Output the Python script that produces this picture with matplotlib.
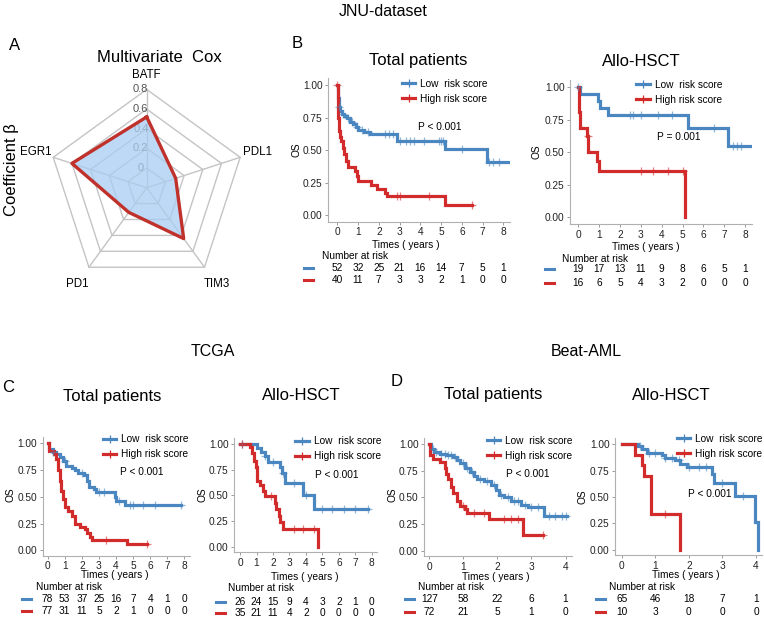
import numpy as np
import matplotlib
matplotlib.use("Agg")
from matplotlib import pyplot as plt
from matplotlib.lines import Line2D
from matplotlib.ticker import FormatStrFormatter
import matplotlib.transforms as mtrans

plt.rcParams['font.family'] = ['Liberation Sans', 'DejaVu Sans']

# ---- radar (panel A) ----
genes = ["BATF", "PDL1", "TIM3", "PD1", "EGR1"]
coef = [0.52, 0.11, 0.44, 0.11, 0.60]
ring_levels = [0, 0.2, 0.4, 0.6, 0.8]

# ---- KM curves: step times, survival after step, censor times, end time ----
# JNU total
jt_low_t = [0.03, 0.08, 0.15, 0.25, 0.35, 0.45, 0.6, 0.75, 0.9, 1.0, 1.3, 1.6, 2.9, 5.2, 7.2]
jt_low_s = [0.90, 0.83, 0.80, 0.78, 0.76, 0.745, 0.72, 0.70, 0.68, 0.655, 0.64, 0.625, 0.57, 0.51, 0.41]
jt_low_c = [0.1, 0.3, 0.5, 0.7, 0.95, 1.2, 1.5, 2.3, 2.5, 2.7, 3.0, 3.3, 3.5, 3.7, 4.2, 4.9, 5.0, 5.1, 6.0, 7.3, 7.5, 7.8]
jt_low_end = 8.3
jt_high_t = [0.02, 0.04, 0.06, 0.1, 0.15, 0.2, 0.28, 0.33, 0.4, 0.5, 0.85, 0.95, 1.0, 1.65, 1.9, 2.3, 2.4, 5.2]
jt_high_s = [0.95, 0.85, 0.75, 0.65, 0.6, 0.57, 0.52, 0.47, 0.42, 0.37, 0.34, 0.30, 0.26, 0.23, 0.20, 0.17, 0.145, 0.075]
jt_high_c = [0.0, 2.9, 3.0, 4.4, 6.5]
jt_high_end = 6.5
jt_risk_low = [52, 32, 25, 21, 16, 14, 7, 5, 1]
jt_risk_high = [40, 11, 7, 3, 3, 2, 1, 0, 0]

# JNU allo-HSCT
ja_low_t = [0.1, 0.93, 1.04, 1.44, 5.28, 7.17]
ja_low_s = [0.947, 0.895, 0.842, 0.789, 0.69, 0.55]
ja_low_c = [0.0, 2.5, 2.6, 3.0, 3.8, 4.5, 6.5, 7.4, 7.6, 7.8]
ja_low_end = 8.3
ja_high_t = [0.02, 0.05, 0.08, 0.4, 0.48, 0.9, 1.0, 5.12]
ja_high_s = [0.9375, 0.8125, 0.69, 0.625, 0.5, 0.43, 0.36, 0.0]
ja_high_c = [0.45, 3.0, 3.6, 4.3, 5.0]
ja_high_end = 5.12
ja_risk_low = [19, 17, 13, 11, 9, 8, 6, 5, 1]
ja_risk_high = [16, 6, 5, 4, 3, 2, 0, 0, 0]

# TCGA total
tt_low_t = [0.1, 0.3, 0.5, 0.7, 0.9, 1.05, 1.4, 1.6, 1.8, 2.1, 2.3, 2.4, 2.7, 2.85, 3.95, 4.0, 4.5]
tt_low_s = [0.95, 0.92, 0.90, 0.87, 0.83, 0.79, 0.77, 0.75, 0.72, 0.70, 0.65, 0.59, 0.57, 0.54, 0.50, 0.46, 0.42]
tt_low_c = [0.3, 1.0, 2.0, 3.0, 3.3, 4.2, 4.8, 5.0, 5.6, 6.3, 7.8]
tt_low_end = 7.8
tt_high_t = [0.1, 0.4, 0.5, 0.6, 0.7, 0.8, 0.9, 1.0, 1.2, 1.4, 1.6, 1.9, 2.2, 2.3, 2.5, 2.6, 4.65]
tt_high_s = [0.93, 0.90, 0.85, 0.75, 0.65, 0.55, 0.48, 0.40, 0.37, 0.32, 0.25, 0.22, 0.20, 0.16, 0.12, 0.10, 0.055]
tt_high_c = [3.4, 5.8]
tt_high_end = 5.8
tt_risk_low = [78, 53, 37, 25, 16, 7, 4, 1, 0]
tt_risk_high = [77, 31, 11, 5, 2, 1, 0, 0, 0]

# TCGA allo-HSCT
ta_low_t = [1.0, 1.3, 1.5, 1.7, 2.45, 2.55, 2.75, 3.85, 4.5]
ta_low_s = [0.96, 0.92, 0.88, 0.82, 0.77, 0.72, 0.62, 0.50, 0.37]
ta_low_c = [0.1, 1.5, 2.0, 2.6, 3.3, 4.0, 5.0, 5.6, 6.3, 7.0, 7.8]
ta_low_end = 7.8
ta_high_t = [0.6, 0.7, 0.85, 0.95, 1.0, 1.05, 1.2, 1.4, 1.5, 2.1, 2.2, 2.35, 2.45, 2.6, 4.75]
ta_high_s = [0.97, 0.91, 0.83, 0.77, 0.70, 0.64, 0.60, 0.54, 0.49, 0.43, 0.37, 0.30, 0.24, 0.18, 0.0]
ta_high_c = [0.1, 1.9, 3.3, 3.8, 4.5]
ta_high_end = 4.75
ta_risk_low = [26, 24, 15, 9, 4, 3, 2, 1, 0]
ta_risk_high = [35, 21, 11, 4, 2, 0, 0, 0, 0]

# Beat-AML total
bt_low_t = [0.05, 0.15, 0.3, 0.5, 0.7, 0.8, 0.9, 1.05, 1.2, 1.3, 1.4, 1.6, 1.8, 1.95, 2.05, 2.2, 2.4, 2.7, 2.9, 3.37]
bt_low_s = [0.95, 0.93, 0.91, 0.90, 0.88, 0.85, 0.82, 0.78, 0.74, 0.70, 0.67, 0.65, 0.62, 0.57, 0.52, 0.50, 0.47, 0.43, 0.41, 0.33]
bt_low_c = [0.1, 0.2, 0.35, 0.45, 0.55, 0.65, 0.75, 1.0, 1.1, 1.25, 1.5, 1.7, 1.9, 2.1, 2.3, 2.5, 2.6, 2.8, 3.0, 3.2, 3.5, 3.7, 3.9, 4.0]
bt_low_end = 4.05
bt_high_t = [0.03, 0.1, 0.3, 0.45, 0.5, 0.55, 0.65, 0.7, 0.8, 0.9, 1.05, 1.1, 1.75, 2.75]
bt_high_s = [0.90, 0.86, 0.83, 0.78, 0.72, 0.67, 0.60, 0.54, 0.47, 0.42, 0.39, 0.35, 0.30, 0.148]
bt_high_c = [1.0, 1.3, 1.6, 2.2, 2.4, 2.6, 3.35]
bt_high_end = 3.35
bt_risk_low = [127, 58, 22, 6, 1]
bt_risk_high = [72, 21, 5, 1, 0]

# Beat-AML allo-HSCT
ba_low_t = [0.5, 0.6, 0.75, 1.2, 1.3, 1.6, 1.75, 1.95, 2.7, 2.75, 3.38, 3.97, 4.05]
ba_low_s = [0.98, 0.95, 0.92, 0.90, 0.87, 0.85, 0.81, 0.78, 0.72, 0.63, 0.51, 0.26, 0.0]
ba_low_c = [0.55, 0.8, 1.0, 1.3, 1.5, 1.7, 2.0, 2.3, 2.5, 3.0, 3.6]
ba_low_end = 4.05
ba_high_t = [0.4, 0.6, 0.65, 0.87, 1.75]
ba_high_s = [0.9, 0.8, 0.7, 0.34, 0.0]
ba_high_c = [1.3]
ba_high_end = 1.75
ba_risk_low = [65, 46, 18, 7, 1]
ba_risk_high = [10, 3, 0, 0, 0]

BLUE = "#4a87c0"
RED = "#d12b2b"
W, H = 764, 621

fig = plt.figure(figsize=(W / 100, H / 100), dpi=100)


def box(l, t, r, b):
    return [l / W, 1 - b / H, (r - l) / W, (b - t) / H]


def ftext(x, y, s, **kw):
    return fig.text(x / W, 1 - y / H, s, **kw)


def draw_curve(ax, t, s, c, end, color):
    x = np.r_[0, t, end]
    y = np.r_[1, s, s[-1]]
    ax.step(x, y, where='post', color=color, lw=2.3, solid_joinstyle='miter', zorder=3)
    idx = np.searchsorted(t, c, side='right')
    cy = np.r_[1, s][idx]
    ax.plot(c, cy, ls='none', marker='+', ms=6, mew=0.9, color=color, alpha=0.6, zorder=4)


# ---- panel A radar ----
cx, cy0, R = 146.7, 187.7, 98.3
S = 1.3 * R
axr = fig.add_axes(box(cx - S, cy0 - S, cx + S, cy0 + S))
axr.set_xlim(-1.3, 1.3)
axr.set_ylim(-1.3, 1.3)
axr.axis('off')
ang = np.deg2rad(90 - 72 * np.arange(5))
for lv in ring_levels:
    r = lv + 0.2
    axr.plot(np.r_[r * np.cos(ang), r * np.cos(ang[0])],
             np.r_[r * np.sin(ang), r * np.sin(ang[0])], color="#c4c4c4", lw=1.0, zorder=1)
for a in ang:
    axr.plot([0, np.cos(a)], [0, np.sin(a)], color="#c4c4c4", lw=1.0, zorder=1)
for lv in ring_levels:
    axr.text(-0.06, lv + 0.2, f"{lv:g}", ha='center', va='center', fontsize=8, color="#555555", zorder=1.5)
rv = np.array(coef) + 0.2
px = np.r_[rv * np.cos(ang), rv[0] * np.cos(ang[0])]
py = np.r_[rv * np.sin(ang), rv[0] * np.sin(ang[0])]
axr.fill(px, py, color="#a9cdf2", alpha=0.75, zorder=2)
axr.plot(px, py, color="#c0312b", lw=2.4, zorder=3)
lab_r = [1.15, 1.19, 1.21, 1.21, 1.19]
for g, a, lr in zip(genes, ang, lab_r):
    axr.text(lr * np.cos(a), lr * np.sin(a), g, ha='center', va='center', fontsize=8.3)

ftext(159, 58, "Multivariate  Cox", ha='center', va='center', fontsize=12)
ftext(12, 170, "Coefficient β", ha='center', va='center', fontsize=12, rotation=90)

# ---- KM panels ----
panels = [
    dict(ax=(328.3, 78, 510, 221.7), xlim=(-0.43, 8.32), ticks=range(9),
         low=(jt_low_t, jt_low_s, jt_low_c, jt_low_end), high=(jt_high_t, jt_high_s, jt_high_c, jt_high_end),
         risk=(jt_risk_low, jt_risk_high), title="Total patients", tpos=(418, 60),
         xl=(406, 244.5), yl=(297, 150), nar=(321.7, 256), rows=(268.3, 280), dash=308,
         leg=(401.7, 79), p="P < 0.001", ppos=(4.95, 0.68)),
    dict(ax=(570, 80, 751.7, 224), xlim=(-0.4, 8.32), ticks=range(9),
         low=(ja_low_t, ja_low_s, ja_low_c, ja_low_end), high=(ja_high_t, ja_high_s, ja_high_c, ja_high_end),
         risk=(ja_risk_low, ja_risk_high), title="Allo-HSCT", tpos=(641.7, 61),
         xl=(645.7, 246.5), yl=(536.7, 152), nar=(561.7, 258.7), rows=(269.5, 283), dash=549,
         leg=(636, 80), p="P = 0.001", ppos=(4.8, 0.62)),
    dict(ax=(42.7, 437.3, 190, 555.7), xlim=(-0.29, 8.33), ticks=range(9),
         low=(tt_low_t, tt_low_s, tt_low_c, tt_low_end), high=(tt_high_t, tt_high_s, tt_high_c, tt_high_end),
         risk=(tt_risk_low, tt_risk_high), title="Total patients", tpos=(111.7, 396),
         xl=(114.3, 575.5), yl=(10, 495), nar=(36, 586.7), rows=(598.7, 611), dash=26,
         leg=(102.7, 434.5), p="P < 0.001", ppos=(5.5, 0.73)),
    dict(ax=(234.3, 438, 376.7, 552.3), xlim=(-0.35, 8.3), ticks=range(9),
         low=(ta_low_t, ta_low_s, ta_low_c, ta_low_end), high=(ta_high_t, ta_high_s, ta_high_c, ta_high_end),
         risk=(ta_risk_low, ta_risk_high), title="Allo-HSCT", tpos=(301.7, 396),
         xl=(305, 577), yl=(203, 495), nar=(228, 588.3), rows=(601.7, 613.3), dash=220,
         leg=(295, 436.5), p="P < 0.001", ppos=(5.87, 0.70)),
    dict(ax=(424, 438.3, 571.7, 556), xlim=(-0.155, 4.18), ticks=range(5),
         low=(bt_low_t, bt_low_s, bt_low_c, bt_low_end), high=(bt_high_t, bt_high_s, bt_high_c, bt_high_end),
         risk=(bt_risk_low, bt_risk_high), title="Total patients", tpos=(493.3, 395),
         xl=(496, 576.5), yl=(392, 495), nar=(418, 587), rows=(599.3, 612.3), dash=409,
         leg=(486.7, 436), p="P < 0.001", ppos=(2.9, 0.72)),
    dict(ax=(615, 438.3, 761.7, 555), xlim=(-0.2, 4.17), ticks=range(5),
         low=(ba_low_t, ba_low_s, ba_low_c, ba_low_end), high=(ba_high_t, ba_high_s, ba_high_c, ba_high_end),
         risk=(ba_risk_low, ba_risk_high), title="Allo-HSCT", tpos=(671.7, 395),
         xl=(685.7, 575.5), yl=(583, 496.7), nar=(609, 587), rows=(599.3, 611.7), dash=600,
         leg=(676.7, 434), p="P < 0.001", ppos=(2.63, 0.53)),
]

FS = 7.3
for pn in panels:
    ax = fig.add_axes(box(*pn['ax']))
    draw_curve(ax, *pn['low'], BLUE)
    draw_curve(ax, *pn['high'], RED)
    ax.set_xlim(*pn['xlim'])
    ax.set_ylim(-0.05, 1.055)
    ax.set_xticks(list(pn['ticks']))
    ax.set_yticks([0, 0.25, 0.5, 0.75, 1.0])
    ax.yaxis.set_major_formatter(FormatStrFormatter('%.2f'))
    ax.tick_params(labelsize=FS, length=2.5, width=0.7, color="#9a9a9a", labelcolor="#222222", pad=1.5)
    for sp in ['top', 'right']:
        ax.spines[sp].set_visible(False)
    for sp in ['left', 'bottom']:
        ax.spines[sp].set_color("#b0b0b0")
        ax.spines[sp].set_linewidth(0.8)
    ax.patch.set_alpha(0)
    ax.text(*pn['ppos'], pn['p'], ha='center', va='center', fontsize=FS)

    handles = [Line2D([], [], color=BLUE, lw=2.3, marker='+', ms=6, mew=0.9),
               Line2D([], [], color=RED, lw=2.3, marker='+', ms=6, mew=0.9)]
    lx, ly = pn['leg']
    ax.legend(handles, ["Low  risk score", "High risk score"], loc='upper left',
              bbox_to_anchor=(lx / W, 1 - ly / H), bbox_transform=fig.transFigure,
              frameon=False, fontsize=FS, handlelength=1.35, handletextpad=0.5,
              borderpad=0, borderaxespad=0, labelspacing=0.45, numpoints=1)

    ftext(*pn['tpos'], pn['title'], ha='center', va='center', fontsize=12)
    ftext(*pn['xl'], "Times ( years )", ha='center', va='center', fontsize=FS)
    ftext(*pn['yl'], "OS", ha='center', va='center', fontsize=FS, rotation=90)
    ftext(*pn['nar'], "Number at risk", ha='left', va='center', fontsize=FS)

    tr = mtrans.blended_transform_factory(ax.transData, fig.transFigure)
    for vals, ry, col in zip(pn['risk'], pn['rows'], [BLUE, RED]):
        for tk, n in zip(pn['ticks'], vals):
            ax.text(tk, 1 - ry / H, str(n), transform=tr, ha='center', va='center',
                    fontsize=FS, clip_on=False)
        dx = pn['dash']
        fig.add_artist(Line2D([(dx - 4.5) / W, (dx + 4.5) / W], [1 - ry / H, 1 - ry / H],
                              transform=fig.transFigure, color=col, lw=2.2))

# group headers and panel letters
ftext(383, 12, "JNU-dataset", ha='center', va='center', fontsize=11.5)
ftext(213, 352, "TCGA", ha='center', va='center', fontsize=11.5)
ftext(586, 352, "Beat-AML", ha='center', va='center', fontsize=11.5)
ftext(15, 45, "A", ha='center', va='center', fontsize=12)
ftext(297, 43, "B", ha='center', va='center', fontsize=12)
ftext(8, 388, "C", ha='center', va='center', fontsize=12)
ftext(397, 382, "D", ha='center', va='center', fontsize=12)

fig.savefig("out.png", dpi=100)
